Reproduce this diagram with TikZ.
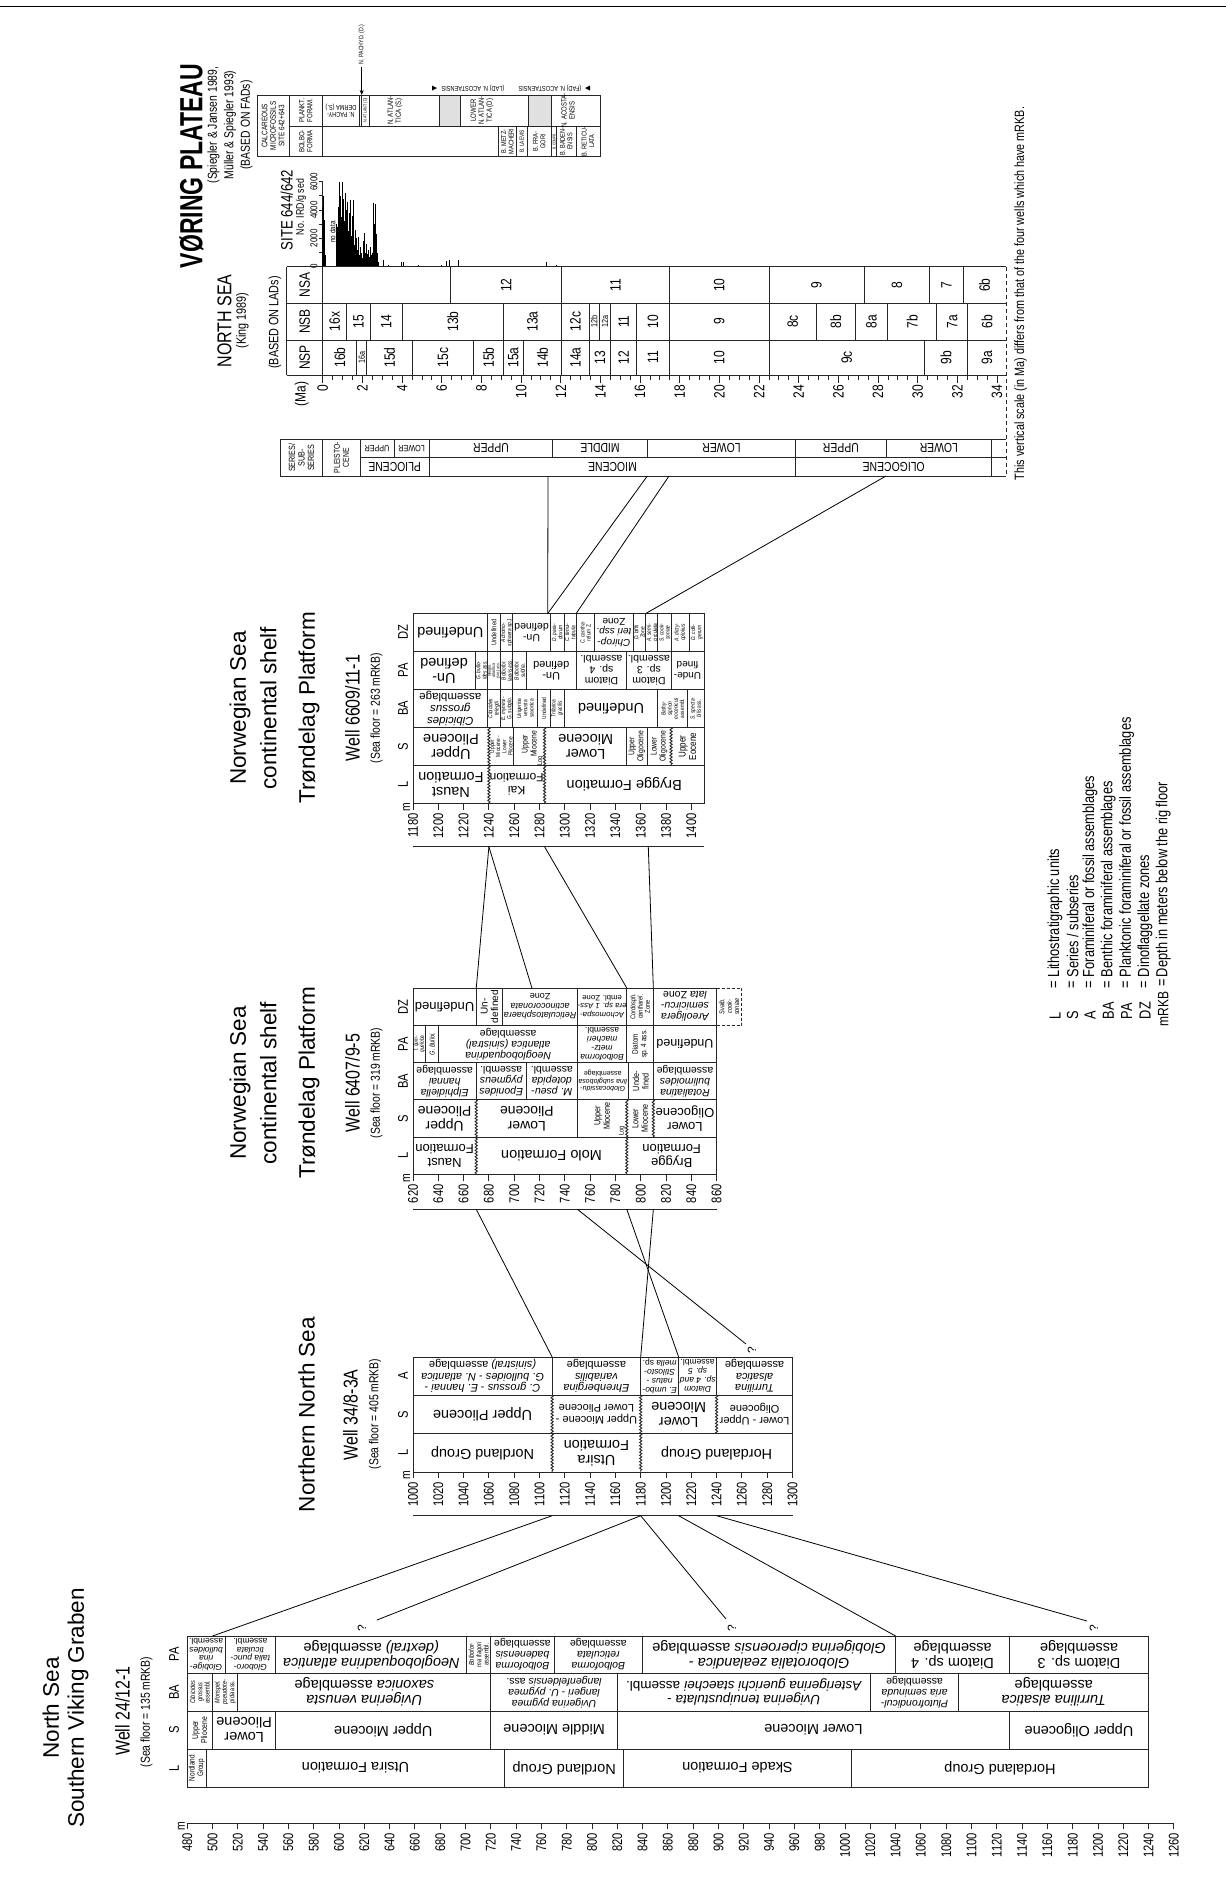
\documentclass[tikz,border=0pt]{standalone}
\usepackage{fontspec}
\setmainfont{Liberation Sans}
\newfontfamily\condf[FakeStretch=0.8]{Liberation Sans}
\newfontfamily\boldcf[FakeStretch=0.72]{Liberation Sans}
\usetikzlibrary{decorations.pathmorphing,arrows.meta}
\newcommand{\fsz}[2]{\fontsize{#1}{#2}\selectfont}
\newcommand{\cel}[5][cA]{\node[#1] at ({(#2+#3)/2},#4) {#5};}
\tikzset{
  tl/.style={draw=black!85, line width=0.9pt},
  cl/.style={draw=black, line width=0.8pt},
  wav/.style={decorate, decoration={zigzag, segment length=3.2pt, amplitude=1.1pt}},
  base/.style={inner sep=0pt, outer sep=0pt, align=center, text=black},
  R/.style={base, rotate=180},
  V/.style={base, rotate=90},
  cA/.style={R, font=\fsz{14.5}{15}},
  cA13/.style={R, font=\fsz{13}{13.5}},
  cB/.style={R, font=\fsz{10.5}{11}},
  cC/.style={R, font=\fsz{8.5}{8.8}},
  vt/.style={V, font=\condf\fsz{7}{7.3}},
  vx/.style={V, font=\condf\fsz{6}{6.2}},
  vs/.style={V, font=\condf\fsz{8.5}{9}},
  hdr/.style={V, font=\condf\fsz{14}{14}},
  num/.style={V, font=\condf\fsz{14}{14}, anchor=east},
  ttl/.style={V, font=\fsz{22.5}{25}},
  wel/.style={V, font=\condf\fsz{20}{20}},
  sfl/.style={V, font=\condf\fsz{13}{13}},
  zl/.style={V, font=\condf\fsz{15}{15}},
  zs/.style={V, font=\condf\fsz{9}{9}},
  leg/.style={V, font=\condf\fsz{16}{16}, anchor=west},
  qm/.style={V, font=\fsz{12}{12}},
}
\begin{document}
\begin{tikzpicture}[x=1pt,y=-1pt]
\fill[white] (0,0) rectangle (1226,1883);
\useasboundingbox (0,0) rectangle (1226,1883);
\draw[black, line width=1pt] (0,6) -- (1226,6);

%================ VORING PLATEAU ================
\node[V, font=\boldcf\bfseries\fsz{32}{32}] (vtitle) at (191.5,166) {VØRING PLATEAU};
\node[V, font=\condf\fsz{13}{16.5}] (vref) at (230,125) {(Spiegler \& Jansen 1989,\\Müller \& Spiegler 1993)\\(BASED ON FADs)};
\node[V, font=\condf\fsz{20}{20}] (nsea) at (224.5,321) {NORTH SEA};
\node[V, font=\condf\fsz{13.5}{13.5}] (king) at (242.5,320.5) {(King 1989)};
\node[V, font=\condf\fsz{13.5}{13.5}] (lads) at (275,322.5) {(BASED ON LADs)};

% calcareous microfossils table
\fill[black!12] (439.3,95) rectangle (460,126);
\fill[black!12] (528.3,95) rectangle (551.7,126);
\draw[tl] (257.3,95) rectangle (600,156.7);
\draw[tl] (289,126) -- (600,126);
\foreach \dv in {289,322.8} \draw[tl] (\dv,95) -- (\dv,156.7);
\foreach \dv in {359.3,361.7,369.3,439.3,460,528.3,551.7} \draw[tl] (\dv,95) -- (\dv,126);
\foreach \dv in {498.3,516.7,527,551.7,556.7,576} \draw[tl] (\dv,126) -- (\dv,156.7);
\node[V, font=\condf\fsz{8}{8.5}] at (273.15,125.85) {CALCAREOUS\\MICROFOSSILS\\SITE 642+643};
\node[V, font=\condf\fsz{7.5}{8}] at (305.9,110.5) {PLANKT.\\FORAM.};
\node[V, font=\condf\fsz{7.5}{8}] at (305.9,141.35) {BOLBO-\\FORMA};
\node[R, font=\condf\fsz{7}{7.5}] at (341,110.5) {N. PACHY-\\DERMA (S.)};
\node[V, font=\condf\fsz{4.5}{4.5}] at (365.5,110.5) {N. ATLANT. (D)};
\node[V, font=\condf\fsz{7.5}{8}] at (395,110.5) {N. ATLAN-\\TICA (S.)};
\node[V, font=\condf\fsz{7.5}{8}] at (482,110.5) {LOWER\\N. ATLAN-\\TICA (D)};
\node[V, font=\condf\fsz{7.5}{8}] at (568,110.5) {N. ACOSTA-\\ENSIS};
\node[V, font=\condf\fsz{7}{7.5}] at (507.5,141.35) {B. METZ-\\MACHERI};
\node[V, font=\condf\fsz{6}{6}] at (521.85,141.35) {B. LAEVIS};
\node[V, font=\condf\fsz{7}{7.5}] at (539.35,141.35) {B. FRA-\\GORI};
\node[V, font=\condf\fsz{4}{4}] at (554.2,141.35) {B. COMPR.};
\node[V, font=\condf\fsz{7}{7.5}] at (566.35,141.35) {B. BADEN-\\ENSIS};
\node[V, font=\condf\fsz{7}{7.5}] at (588,141.35) {B. RETICU-\\LATA};
% markers above table
\coordinate (pachyA) at (361.7,67);
\coordinate (pachyB) at (361.7,95);
\draw[cl, -{Stealth[length=5pt,width=4pt]}] (pachyA) -- (pachyB);
\node[V, font=\condf\fsz{6.5}{6.5}, anchor=west] (pachyT) at (361.7,64) {N. PACHYD. (D.)};
\fill (432,85.5) -- (437,88) -- (432,90.5) -- cycle;
\node[R, font=\condf\fsz{7}{7}] (lad) at (473,88) {(LAD) N. ACOSTAENSIS};
\fill (590,85.5) -- (585,88) -- (590,90.5) -- cycle;
\node[R, font=\condf\fsz{7}{7}] (fad) at (550,88) {(FAD) N. ACOSTAENSIS};

% IRD labels
\node[V, font=\condf\fsz{16.5}{16.5}] (site) at (286.7,210) {SITE 644/642};
\node[V, font=\condf\fsz{11}{11}] (ird) at (301,207) {No. IRD/g sed};
\node[V, font=\condf\fsz{10}{10}] at (314,266.7) {0};
\node[V, font=\condf\fsz{10}{10}] at (314,238.4) {2000};
\node[V, font=\condf\fsz{10}{10}] at (314,210.0) {4000};
\node[V, font=\condf\fsz{10}{10}] at (314,181.7) {6000};
\node[V, font=\condf\fsz{8}{8}] at (332.5,232) {no data};
\node[V, font=\condf\fsz{15}{15}] at (301.7,394) {(Ma)};

\begin{scope}[xshift=322.8pt, x=19.83pt]
  % IRD axis and bars
  \draw[tl] (0,181.7) -- (0,266.7);
  \foreach \vl in {0,...,6} \draw[tl] (0,{266.7-14.17*\vl}) -- (-0.2,{266.7-14.17*\vl});
  \foreach \ag/\vl in {0/4.2,0.05/5.0,0.1/3.3,0.15/0.8,
     0.7/3.0,0.75/2.8,0.8/4.2,0.85/6.0,0.9/5.0,0.95/3.5,1.0/6.0,1.05/4.8,1.1/3.2,1.15/5.2,
     1.2/4.0,1.25/4.6,1.3/2.5,1.35/3.8,1.4/4.7,1.45/2.2,1.5/3.6,1.55/4.7,1.6/1.5,1.65/2.6,
     1.7/2.0,1.75/1.2,1.8/2.1,1.85/0.8,1.9/1.4,1.95/1.0,2.0/0.6,2.05/1.8,2.1/2.4,2.15/1.0,
     2.2/1.6,2.25/0.9,2.3/1.2,2.35/0.7,2.4/1.4,2.45/0.8,2.5/1.0,2.55/4.5,2.6/3.0,2.65/4.4,
     2.7/2.3,2.75/1.0,2.8/0.3,3.05/0.5,3.3/0.1,3.98/0.35,4.06/0.3,4.82/0.15,6.0/0.1,
     6.25/0.4,6.38/0.5,6.85/0.5,11.26/0.3,11.8/0.1}
     \fill[black] ({\ag-0.028},266.7) rectangle ({\ag+0.028},{266.7-14.17*\vl});
  % zone strips
  \foreach \yy in {266.7,303.3,340,375} \draw[tl] (-1.82,\yy) -- (34.45,\yy);
  \draw[tl] (-1.82,266.7) -- (-1.82,375);
  \draw[tl] (0,266.7) -- (0,375);
  \draw[tl, dash pattern=on 4pt off 3pt] (34.45,266.7) -- (34.45,476);
  \foreach \ag in {6.45,12.05,17.47,22.5,27.3,30.6,32.3} \draw[tl] (\ag,266.7) -- (\ag,303.3);
  \foreach \ag in {1.2,2.4,4.0,9.1,12.05,13.43,13.94,14.52,15.83,17.47,22.5,24.9,26.84,28.49,30.96,32.53} \draw[tl] (\ag,303.3) -- (\ag,340);
  \foreach \ag in {1.72,2.22,4.51,7.62,9.1,10.1,12.05,13.43,14.52,15.83,17.47,22.5,30.33,32.53} \draw[tl] (\ag,340) -- (\ag,375);
  \node[zl] at (-0.91,285) {NSA};
  \node[zl] at (-0.91,321.65) {NSB};
  \node[zl] at (-0.91,357.5) {NSP};
  \foreach \aa/\bb/\tt in {6.45/12.05/12,12.05/17.47/11,17.47/22.5/10,22.5/27.3/9,27.3/30.6/8,30.6/32.3/7,32.3/34.45/6b}
     \node[zl] at ({(\aa+\bb)/2},285) {\tt};
  \foreach \aa/\bb/\tt in {0/1.2/16x,1.2/2.4/15,2.4/4.0/14,4.0/9.1/13b,9.1/12.05/13a,12.05/13.43/12c,14.52/15.83/11,15.83/17.47/10,17.47/22.5/9,22.5/24.9/8c,24.9/26.84/8b,26.84/28.49/8a,28.49/30.96/7b,30.96/32.53/7a,32.53/34.45/6b}
     \node[zl] at ({(\aa+\bb)/2},321.65) {\tt};
  \node[zs] at (13.685,321.65) {12b};
  \node[zs] at (14.23,321.65) {12a};
  \foreach \aa/\bb/\tt in {0/1.72/16b,2.22/4.51/15d,4.51/7.62/15c,7.62/9.1/15b,9.1/10.1/15a,10.1/12.05/14b,12.05/13.43/14a,13.43/14.52/13,14.52/15.83/12,15.83/17.47/11,17.47/22.5/10,22.5/30.33/9c,30.33/32.53/9b,32.53/34.45/9a}
     \node[zl] at ({(\aa+\bb)/2},357.5) {\tt};
  \node[zs] at (1.97,357.5) {16a};
  % Ma axis
  \foreach \ag in {0,0.5,...,34} \draw[tl] (\ag,375) -- (\ag,379.5);
  \foreach \ag in {0,2,...,34} {\draw[tl] (\ag,375) -- (\ag,383);
     \node[V, font=\condf\fsz{15}{15}, anchor=east] at (\ag,385) {\ag};}
\end{scope}

% series column
\draw[tl] (280,439.3) rectangle (991.7,476);
\draw[tl] (360,457) -- (1006,457);
\draw[tl] (991.7,439.3) -- (1006,439.3);
\draw[tl] (991.7,476) -- (1006,476);
\foreach \dv in {322.8,360,429.3,795.7} \draw[tl] (\dv,439.3) -- (\dv,476);
\foreach \dv in {394,552.6,647.3,886} \draw[tl] (\dv,439.3) -- (\dv,457);
\node[V, font=\condf\fsz{9}{9.5}] at (301.4,457.65) {SERIES/\\SUB-\\SERIES};
\node[V, font=\condf\fsz{8.5}{9}] at (341.4,457.65) {PLEISTO-\\CENE};
\node[R, font=\condf\fsz{9}{9}] at (377,448.15) {UPPER};
\node[R, font=\condf\fsz{9}{9}] at (411.65,448.15) {LOWER};
\node[R, font=\condf\fsz{13}{13}] at (491,448.15) {UPPER};
\node[R, font=\condf\fsz{13}{13}] at (600,448.15) {MIDDLE};
\node[R, font=\condf\fsz{13}{13}] at (721.5,448.15) {LOWER};
\node[R, font=\condf\fsz{13}{13}] at (840.85,448.15) {UPPER};
\node[R, font=\condf\fsz{13}{13}] at (938.85,448.15) {LOWER};
\node[R, font=\condf\fsz{13}{13}] at (394.65,466.5) {PLIOCENE};
\node[R, font=\condf\fsz{13}{13}] at (612.5,466.5) {MIOCENE};
\node[R, font=\condf\fsz{13}{13}] at (893.7,466.5) {OLIGOCENE};
\coordinate (sA) at (548,476);
\coordinate (sB) at (647.3,476);
\coordinate (sC) at (669,476);
\coordinate (sD) at (886,476);

\node[V, font=\condf\fsz{13.5}{13.5}, anchor=west] (note) at (1020.5,480) {This vertical scale (in Ma) differs from that of the four wells which have mRKB.};

%================ PANEL 4: Well 6609/11-1 ================
\node[ttl, font=\fsz{22.5}{30.5}] (t4a) at (253,708) {Norwegian Sea\\continental shelf};
\node[ttl] (t4b) at (309,708) {Trøndelag Platform};
\node[wel] (t4c) at (352.5,708) {Well 6609/11-1};
\node[sfl] (t4d) at (376.5,708) {(Sea floor = 263 mRKB)};
\node[hdr] at (403,632.5) {DZ};
\node[hdr] at (403,670.5) {PA};
\node[hdr] at (403,708.5) {BA};
\node[hdr] at (403,746.5) {S};
\node[hdr] at (403,784.5) {L};
\node[V, font=\condf\fsz{13}{13}] at (406.5,807) {m};
\begin{scope}[xshift=-1079.7pt, x=1.265pt]
  \draw[tl] (1180,613.5) rectangle (1410,803.5);
  \foreach \yy in {651.5,689.5,727.5,765.5} \draw[tl] (1180,\yy) -- (1410,\yy);
  \foreach \dv in {1239,1249,1259,1288.5,1299.4,1309,1323.7,1354,1364,1373.6,1384,1398.5} \draw[tl] (\dv,613.5) -- (\dv,651.5);
  \foreach \dv in {1229,1239,1249,1259,1269.5,1309,1349,1384} \draw[tl] (\dv,651.5) -- (\dv,689.5);
  \foreach \dv in {1239,1249,1259,1278.4,1288.6,1299.4,1373.6,1397} \draw[tl] (\dv,689.5) -- (\dv,727.5);
  \foreach \dv in {1259.6,1349,1365} \draw[tl] (\dv,727.5) -- (\dv,765.5);
  \foreach \dv in {1240,1284} \draw[tl,wav] (\dv,727.5) -- (\dv,803.5);
  \draw[tl,wav] (1384,727.5) -- (1384,765.5);
  % DZ
  \cel[cA]{1180}{1239}{632.5}{Undefined}
  \cel[vt]{1239}{1249}{632.5}{Undefined}
  \cel[vx]{1249}{1259}{632.5}{\textit{Achomo-}\\\textit{sphaera sp.1}}
  \cel[R, font=\fsz{10.5}{11}]{1259}{1288.5}{632.5}{Un-\\defined}
  \cel[vx]{1288.5}{1299.4}{632.5}{\textit{D. para-}\\\textit{doxum}}
  \cel[vx]{1299.4}{1309}{632.5}{\textit{C. tenui-}\\\textit{tabula}}
  \cel[vx]{1309}{1323.7}{632.5}{\textit{C. cantha-}\\\textit{relum} Z.}
  \cel[R, font=\fsz{10}{10.5}]{1323.7}{1354}{632.5}{\textit{Chirop-}\\\textit{teri ssp.}\\Zone}
  \cel[vx]{1354}{1364}{632.5}{\textit{D. biffii}\\Zone}
  \cel[vx]{1364}{1373.6}{632.5}{\textit{A. semi-}\\\textit{circulata}}
  \cel[vx]{1373.6}{1384}{632.5}{\textit{S. cook-}\\\textit{soniae}}
  \cel[vx]{1384}{1398.5}{632.5}{\textit{A. dicty-}\\\textit{oplokus}}
  \cel[vx]{1398.5}{1410}{632.5}{\textit{D. colli-}\\\textit{gerum}}
  % PA
  \cel[cA]{1180}{1229}{670.5}{Un-\\defined}
  \cel[vx]{1229}{1239}{670.5}{\textit{G. bullo-}\\\textit{ides ass.}}
  \cel[V, font=\condf\fsz{4.5}{4.2}]{1239}{1249}{670.5}{\textit{Neoglo.}\\\textit{atlantica}\\\textit{(sin.) ass.}}
  \cel[vx]{1249}{1259}{670.5}{\textit{Bolbofor.}\\\textit{laevis ass.}}
  \cel[vx]{1259}{1269.5}{670.5}{\textit{Bolbofor.}\\\textit{subfra.}}
  \cel[R, font=\fsz{11}{11.5}]{1269.5}{1309}{670.5}{Un-\\defined}
  \cel[cB]{1309}{1349}{670.5}{Diatom\\sp. 4\\assembl.}
  \cel[cB]{1349}{1384}{670.5}{Diatom\\sp. 3\\assembl.}
  \cel[R, font=\fsz{10}{10.5}]{1384}{1410}{670.5}{Unde-\\fined}
  % BA
  \cel[R, font=\fsz{11.5}{12}]{1180}{1239}{708.5}{\textit{Cibicides}\\\textit{grossus}\\assemblage}
  \cel[vx]{1239}{1249}{708.5}{\textit{Cibicides}\\\textit{telegdi}}
  \cel[vx]{1249}{1259}{708.5}{\textit{E. mynesi -}\\\textit{G. subglo.}}
  \cel[vx]{1259}{1278.4}{708.5}{\textit{Uvigerina}\\\textit{venusta}\\\textit{saxonica}}
  \cel[vx]{1278.4}{1288.6}{708.5}{Undefined}
  \cel[vx]{1288.6}{1299.4}{708.5}{\textit{Trifarina}\\\textit{gracilis}}
  \cel[cA]{1299.4}{1373.6}{708.5}{Undefined}
  \cel[vx]{1373.6}{1397}{708.5}{\textit{Bathy-}\\\textit{siphon}\\\textit{eocenicus}\\assembl.}
  \cel[vx]{1397}{1410}{708.5}{\textit{S. specta-}\\\textit{bilis} ass.}
  % S
  \cel[cA]{1180}{1240}{746.5}{Upper\\Pliocene}
  \cel[vx]{1240}{1259.6}{746.5}{Upper\\Miocene -\\Lower\\Pliocene}
  \cel[vs]{1259.6}{1284}{744}{Upper\\Miocene}
  \node[V, font=\condf\fsz{7}{7}] at (1280.8,761) {Log};
  \cel[cA]{1284}{1349}{746.5}{Lower\\Miocene}
  \cel[vs]{1349}{1365}{746.5}{Upper\\Oligocene}
  \cel[vs]{1365}{1384}{746.5}{Lower\\Oligocene}
  \cel[V, font=\condf\fsz{10}{10.5}]{1384}{1410}{746.5}{Upper\\Eocene}
  % L
  \cel[cA]{1180}{1240}{784.5}{Naust\\Formation}
  \cel[R, font=\fsz{12}{13}]{1240}{1284}{784.5}{Kai\\Formation}
  \cel[cA]{1284}{1410}{784.5}{Brygge Formation}
  % axis
  \foreach \dv in {1180,1200,...,1400} {\draw[tl] (\dv,803.5) -- (\dv,809.5); \node[num] at (\dv,813.5) {\dv};}
  \draw[tl] (1180,846.7) -- (1410,846.7);
  \coordinate (p4t1286) at (1286.5,613.5);
  \coordinate (p4t1309) at (1309,613.5);
  \coordinate (p4t1364) at (1364,613.5);
  \coordinate (p4b1240) at (1240,846.7);
  \coordinate (p4b1284) at (1284,846.7);
  \coordinate (p4b1366) at (1366,846.7);
\end{scope}

%================ PANEL 3: Well 6407/9-5 ================
\node[ttl, font=\fsz{22.5}{30.5}] (t3a) at (253,1083) {Norwegian Sea\\continental shelf};
\node[ttl] (t3b) at (309,1083) {Trøndelag Platform};
\node[wel] (t3c) at (352.5,1083) {Well 6407/9-5};
\node[sfl] (t3d) at (376.5,1083) {(Sea floor = 319 mRKB)};
\node[hdr] at (403,1006.65) {DZ};
\node[hdr] at (403,1043.95) {PA};
\node[hdr] at (403,1081.25) {BA};
\node[hdr] at (403,1118.55) {S};
\node[hdr] at (403,1155.85) {L};
\node[V, font=\condf\fsz{13}{13}] at (406.5,1178) {m};
\begin{scope}[xshift=-371.3pt, x=1.265pt]
  \draw[tl] (620,988) rectangle (860,1174.5);
  \foreach \yy in {1025.3,1062.6,1099.9,1137.2} \draw[tl] (620,\yy) -- (860,\yy);
  \draw[tl, densely dashed] (860,988) -- (880,988) -- (880,1025.3) -- (860,1025.3);
  \foreach \dv in {670,691,750,789,810} \draw[tl] (\dv,988) -- (\dv,1025.3);
  \foreach \dv in {630,640.4,750,789,810} \draw[tl] (\dv,1025.3) -- (\dv,1062.6);
  \foreach \dv in {670,709.5,750,790,810} \draw[tl] (\dv,1062.6) -- (\dv,1099.9);
  \draw[tl] (750,1099.9) -- (750,1137.2);
  \foreach \dv in {670,789} \draw[tl,wav] (\dv,1099.9) -- (\dv,1174.5);
  \draw[tl,wav] (810,1099.9) -- (810,1137.2);
  % DZ
  \cel[cA13]{620}{670}{1006.65}{Undefined}
  \cel[V, font=\fsz{10}{10.5}]{670}{691}{1006.65}{Un-\\defined}
  \cel[R, font=\fsz{9}{9.5}]{691}{750}{1006.65}{\textit{Reticulatosphaera}\\\textit{actinocoronata}\\Zone}
  \cel[R, font=\fsz{7.8}{8.5}]{750}{789}{1006.65}{\textit{Achomospa-}\\\textit{era sp. 1 Ass-}\\embl. Zone}
  \cel[vt]{789}{810}{1006.65}{\textit{Cordosph.}\\\textit{cantharel.}\\Zone}
  \cel[cB]{810}{860}{1006.65}{\textit{Areoligera}\\\textit{semicircu-}\\\textit{lata} Zone}
  \cel[vt]{860}{880}{1006.65}{\textit{Svalb.}\\\textit{cook-}\\\textit{soniae}}
  % PA
  \cel[V, font=\condf\fsz{6}{6.2}]{620}{630}{1043.95}{\textit{T. quin-}\\\textit{queloba}}
  \cel[V, font=\condf\fsz{7}{7}]{630}{640.4}{1043.95}{\textit{G. Bulloi.}}
  \cel[cB]{640.4}{750}{1043.95}{\textit{Neogloboquadrina}\\\textit{atlantica (sinistral)}\\assemblage}
  \cel[cC]{750}{789}{1043.95}{\textit{Bolboforma}\\\textit{metz-}\\\textit{macheri}\\assembl.}
  \cel[V, font=\condf\fsz{8}{8.5}]{789}{810}{1043.95}{Diatom\\sp. 4 ass.}
  \cel[R, font=\fsz{12.5}{13}]{810}{860}{1043.95}{Undefined}
  % BA
  \cel[cB]{620}{670}{1081.25}{\textit{Elphidiella}\\\textit{hannai}\\assemblage}
  \cel[cB]{670}{709.5}{1081.25}{\textit{Eponides}\\\textit{pygmeus}\\assembl.}
  \cel[cB]{709.5}{750}{1081.25}{\textit{M. pseu-}\\\textit{dotepida}\\assembl.}
  \cel[R, font=\fsz{7}{7.5}]{750}{790}{1081.25}{\textit{Globocassidu-}\\\textit{lina subglobosa}\\assemblage}
  \cel[V, font=\condf\fsz{9}{9.5}]{790}{810}{1081.25}{Unde-\\fined}
  \cel[cB]{810}{860}{1081.25}{\textit{Rotaliatina}\\\textit{bulimoides}\\assemblage}
  % S
  \cel[R, font=\fsz{14}{14.5}]{620}{670}{1118.55}{Upper\\Pliocene}
  \cel[R, font=\fsz{14}{14.5}]{670}{750}{1118.55}{Lower\\Pliocene}
  \cel[V, font=\condf\fsz{9}{9.5}]{750}{789}{1116}{Upper\\Miocene}
  \node[V, font=\condf\fsz{7}{7}] at (785.2,1131) {Log};
  \cel[V, font=\condf\fsz{9}{9.5}]{789}{810}{1118.55}{Lower\\Miocene}
  \cel[cA13]{810}{860}{1118.55}{Lower\\Oligocene}
  % L
  \cel[cA13]{620}{670}{1155.85}{Naust\\Formation}
  \cel[cA]{670}{789}{1155.85}{Molo Formation}
  \cel[cA13]{789}{860}{1155.85}{Brygge\\Formation}
  % axis
  \foreach \dv in {620,640,...,860} {\draw[tl] (\dv,1174.5) -- (\dv,1180.5); \node[num] at (\dv,1184.5) {\dv};}
  \draw[tl] (620,1209.3) -- (860,1209.3);
  \coordinate (p3t670) at (670,988);
  \coordinate (p3t714) at (714,988);
  \coordinate (p3t789) at (789,988);
  \coordinate (p3t810) at (810,988);
  \coordinate (p3b670) at (670,1209.3);
  \coordinate (p3b750) at (750,1209.3);
  \coordinate (p3b789) at (789,1209.3);
  \coordinate (p3b810) at (810,1209.3);
\end{scope}

%================ PANEL 2: Well 34/8-3A ================
\node[ttl] (t2a) at (306.5,1414.5) {Northern North Sea};
\node[wel] (t2c) at (350.5,1415) {Well 34/8-3A};
\node[sfl] (t2d) at (375,1414) {(Sea floor = 405 mRKB)};
\node[hdr] at (403,1376.2) {A};
\node[hdr] at (403,1414.5) {S};
\node[hdr] at (403,1452.8) {L};
\node[V, font=\condf\fsz{13}{13}] at (406.5,1475.5) {m};
\begin{scope}[xshift=-852pt, x=1.265pt]
  \draw[tl] (1000,1357) rectangle (1300,1472);
  \foreach \yy in {1395.3,1433.7} \draw[tl] (1000,\yy) -- (1300,\yy);
  \foreach \dv in {1110,1180,1210,1240} \draw[tl] (\dv,1357) -- (\dv,1395.3);
  \foreach \dv in {1110,1180} \draw[tl,wav] (\dv,1395.3) -- (\dv,1472);
  \draw[tl,wav] (1240,1395.3) -- (1240,1433.7);
  \cel[R, font=\fsz{11}{11.5}]{1000}{1110}{1376.2}{\textit{C. grossus - E. hannai -}\\\textit{G. bulloides - N. atlantica}\\\textit{(sinistral)} assemblage}
  \cel[R, font=\fsz{11}{11.5}]{1110}{1180}{1376.2}{\textit{Ehrenbergina}\\\textit{variabilis}\\assemblage}
  \cel[cC]{1180}{1210}{1376.2}{\textit{E. umbo-}\\\textit{natus -}\\\textit{Stilosto-}\\\textit{mella} sp.}
  \cel[cC]{1210}{1240}{1376.2}{\textit{Diatom}\\\textit{sp. 4 and}\\\textit{sp. 5}\\assembl.}
  \cel[R, font=\fsz{11}{11.5}]{1240}{1300}{1376.2}{\textit{Turrilina}\\\textit{alsatica}\\assemblage}
  \cel[cA]{1000}{1110}{1414.5}{Upper Pliocene}
  \cel[R, font=\fsz{11}{12}]{1110}{1180}{1414.5}{Upper Miocene -\\Lower Pliocene}
  \cel[cA]{1180}{1240}{1414.5}{Lower\\Miocene}
  \cel[R, font=\fsz{11}{12}]{1240}{1300}{1414.5}{Lower - Upper\\Oligocene}
  \cel[cA]{1000}{1110}{1452.8}{Nordland Group}
  \cel[cA]{1110}{1180}{1452.8}{Utsira\\Formation}
  \cel[cA]{1180}{1300}{1452.8}{Hordaland Group}
  \foreach \dv in {1000,1020,...,1300} {\draw[tl] (\dv,1472) -- (\dv,1478); \node[num] at (\dv,1482) {\dv};}
  \draw[tl] (1000,1515.7) -- (1300,1515.7);
  \coordinate (p2t1110) at (1110,1357);
  \coordinate (p2t1180) at (1180,1357);
  \coordinate (p2t1210) at (1210,1357);
  \coordinate (p2b1110) at (1110,1515.7);
  \coordinate (p2b1180) at (1180,1515.7);
  \coordinate (p2b1210) at (1210,1515.7);
  \coordinate (p2b1240) at (1240,1515.7);
\end{scope}

%================ PANEL 1: Well 24/12-1 ================
\node[ttl] (t1a) at (65.5,1708) {North Sea\\Southern Viking Graben};
\node[wel] (t1c) at (122.5,1711) {Well 24/12-1};
\node[sfl] (t1d) at (146.5,1712) {(Sea floor = 135 mRKB)};
\node[hdr] at (174,1654.5) {PA};
\node[hdr] at (174,1692) {BA};
\node[hdr] at (174,1730) {S};
\node[hdr] at (174,1768) {L};
\node[V, font=\condf\fsz{13}{13}] at (181.5,1826) {m};
\begin{scope}[xshift=-420pt, x=1.265pt]
  \draw[tl] (480,1636) rectangle (1240,1787);
  \foreach \yy in {1673,1711,1749} \draw[tl] (480,\yy) -- (1240,\yy);
  \foreach \dv in {510,550,701,720,770,840,1040,1130} \draw[tl] (\dv,1636) -- (\dv,1673);
  \foreach \dv in {500,520,720,820,1020,1090} \draw[tl] (\dv,1673) -- (\dv,1711);
  \foreach \dv in {500,550,720,820,1130} \draw[tl] (\dv,1711) -- (\dv,1749);
  \foreach \dv in {495,731,825,1005} \draw[tl] (\dv,1749) -- (\dv,1787);
  % PA
  \cel[cC]{480}{510}{1654.5}{\textit{Globige-}\\\textit{rina}\\\textit{bulloides}\\assembl.}
  \cel[cC]{510}{550}{1654.5}{\textit{Globoro-}\\\textit{talia punc-}\\\textit{ticulata}\\assembl.}
  \cel[cA]{550}{701}{1654.5}{\textit{Neogloboquadrina atlantica}\\\textit{(dextral)} assemblage}
  \cel[vt]{701}{720}{1654.5}{\textit{Bolbofor-}\\\textit{ma fragori}\\assembl.}
  \cel[cB]{720}{770}{1654.5}{\textit{Bolboforma}\\\textit{badenensis}\\assemblage}
  \cel[cB]{770}{840}{1654.5}{\textit{Bolboforma}\\\textit{reticulata}\\assemblage}
  \cel[cA]{840}{1040}{1654.5}{\textit{Globorotalia zealandica -}\\\textit{Globigerina ciperoensis} assemblage}
  \cel[cA]{1040}{1130}{1654.5}{Diatom sp. 4\\assemblage}
  \cel[cA]{1130}{1240}{1654.5}{Diatom sp. 3\\assemblage}
  % BA
  \cel[vt]{480}{500}{1692}{\textit{Cibicides}\\\textit{grossus}\\assembl.}
  \cel[vt]{500}{520}{1692}{\textit{Monspel.}\\\textit{pseudote-}\\\textit{pida} ass.}
  \cel[cA]{520}{720}{1692}{\textit{Uvigerina venusta}\\\textit{saxonica} assemblage}
  \cel[cB]{720}{820}{1692}{\textit{Uvigerina pygmea}\\\textit{langeri - U. pygmea}\\\textit{langenfeldensis} ass.}
  \cel[R, font=\fsz{13.5}{14}]{820}{1020}{1692}{\textit{Uvigerina tenuipustulata -}\\\textit{Asterigerina guerichi staechei} assembl.}
  \cel[cB]{1020}{1090}{1692}{\textit{Plutofrondicul-}\\\textit{aria seminuda}\\assemblage}
  \cel[cA]{1090}{1240}{1692}{\textit{Turrilina alsatica}\\assemblage}
  % S
  \cel[vs]{480}{500}{1730}{Upper\\Pliocene}
  \cel[cA]{500}{550}{1730}{Lower\\Pliocene}
  \cel[cA]{550}{720}{1730}{Upper Miocene}
  \cel[cA]{720}{820}{1730}{Middle Miocene}
  \cel[cA]{820}{1130}{1730}{Lower Miocene}
  \cel[cA]{1130}{1240}{1730}{Upper Oligocene}
  % L
  \cel[V, font=\condf\fsz{8}{8.5}]{480}{495}{1768}{Nordland\\Group}
  \cel[cA]{495}{731}{1768}{Utsira Formation}
  \cel[cA]{731}{825}{1768}{Nordland Group}
  \cel[cA]{825}{1005}{1768}{Skade Formation}
  \cel[cA]{1005}{1240}{1768}{Hordaland Group}
  % axis
  \draw[tl] (480,1823) -- (1260,1823);
  \foreach \dv in {480,500,...,1260} {\draw[tl] (\dv,1823) -- (\dv,1829); \node[num] at (\dv,1833) {\dv};}
  \coordinate (p1t500) at (500,1636);
  \coordinate (p1t1040) at (1040,1636);
\end{scope}

%================ LEGEND ================
\node[leg] at (1055,1019) {L};    \node[leg] at (1055,988) {=};    \node[leg] (lg1) at (1055,977) {Lithostratigraphic units};
\node[leg] at (1072.7,1019) {S};  \node[leg] at (1072.7,988) {=};  \node[leg] (lg2) at (1072.7,977) {Series / subseries};
\node[leg] at (1090,1019) {A};    \node[leg] at (1090,988) {=};    \node[leg] (lg3) at (1090,977) {Foraminiferal or fossil assemblages};
\node[leg] at (1108.3,1019) {BA}; \node[leg] at (1108.3,988) {=};  \node[leg] (lg4) at (1108.3,977) {Benthic foraminiferal assemblages};
\node[leg] at (1126.7,1019) {PA}; \node[leg] at (1126.7,988) {=};  \node[leg] (lg5) at (1126.7,977) {Planktonic foraminiferal or fossil assemblages};
\node[leg] at (1145,1019) {DZ};   \node[leg] at (1145,988) {=};    \node[leg] (lg6) at (1145,977) {Dinoflaggellate zones};
\node[leg, font=\condf\fsz{15}{15}] at (1163.3,1026) {mRKB}; \node[leg] at (1163.3,986.5) {=}; \node[leg] (lg7) at (1163.3,977) {Depth in meters below the rig floor};

%================ CORRELATION LINES ================
\draw[cl] (sA) -- (p4t1286);
\draw[cl] (sB) -- (p4t1286);
\draw[cl] (sC) -- (p4t1309);
\draw[cl] (sD) -- (p4t1364);
\draw[cl] (p4b1240) -- (p3t670);
\draw[cl] (p4b1240) -- (p3t714);
\draw[cl] (p4b1284) -- (p3t789);
\draw[cl] (p4b1366) -- (p3t810);
\coordinate (q2e) at (746,1344);
\node[qm] (q2) at (752,1350) {?};
\draw[cl] (p3b670) -- (p2t1110);
\draw[cl] (p3b750) -- (q2e);
\draw[cl] (p3b789) -- (p2t1210);
\draw[cl] (p3b810) -- (p2t1180);
\coordinate (q1ae) at (377,1620);
\coordinate (q1be) at (726,1619);
\coordinate (q1ce) at (1087,1621);
\node[qm] (q1a) at (362,1628) {?};
\node[qm] (q1b) at (732,1628) {?};
\node[qm] (q1c) at (1094,1628) {?};
\draw[cl] (p2b1110) -- (p1t500);
\draw[cl] (p2b1180) -- (q1ae);
\draw[cl] (p2b1180) -- (q1be);
\draw[cl] (p2b1210) -- (p1t1040);
\draw[cl] (p2b1240) -- (q1ce);
\end{tikzpicture}
\end{document}
